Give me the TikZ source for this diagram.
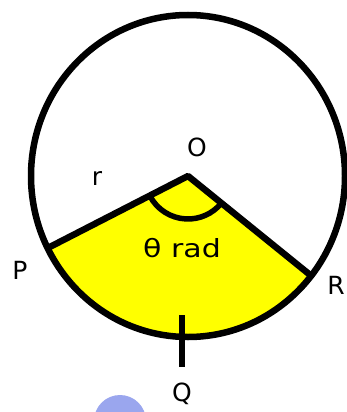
\documentclass[tikz,border=0pt]{standalone}
\usepackage{fontspec}
\setmainfont{DejaVu Sans}
\definecolor{sectoryellow}{HTML}{FFFF00}
\definecolor{blobblue}{HTML}{9AA6EE}
\tikzset{
  heavy/.style={line width=6.5pt, line join=round, line cap=butt},
  lbl/.style={font=\fontsize{25}{28}\selectfont, inner sep=0pt}
}
\begin{document}
\begin{tikzpicture}[x=1pt,y=1pt]
\useasboundingbox (0,0) rectangle (347,-412);
\clip (0,0) rectangle (347,-412);
\fill[white] (0,0) rectangle (347,-412);
\coordinate (O) at (188,-176);
\coordinate (P) at (47.6,-248.1);
\coordinate (R) at (311.2,-275.8);
\coordinate (q1) at (182,-315);
\coordinate (q2) at (182,-367);
% sector
\fill[sectoryellow] (O) -- (P) arc[start angle=206.6, end angle=321.7, x radius=157pt, y radius=161pt] -- cycle;
% circle
\draw[heavy] (O) ellipse[x radius=157pt, y radius=161pt];
% radii
\draw[heavy] (P) -- (O) -- (R);
% angle arc
\draw[line width=5.5pt] (O) ++(207.2:43pt) arc[start angle=207.2, end angle=321, radius=43pt];
% Q tick
\draw[line width=5.5pt] (q1) -- (q2);
% labels
\node[lbl] (lO) at (197,-147) {O};
\node[lbl] (lr) at (97,-178) {r};
\node[lbl] (lP) at (20,-270) {P};
\node[lbl] (lR) at (336,-285) {R};
\node[lbl] (lQ) at (182,-394) {Q};
\node[lbl, xscale=1.2] (lth) at (182,-248) {θ rad};
% watermark blob
\fill[blobblue] (120,-421) circle (26pt);
\end{tikzpicture}
\end{document}
